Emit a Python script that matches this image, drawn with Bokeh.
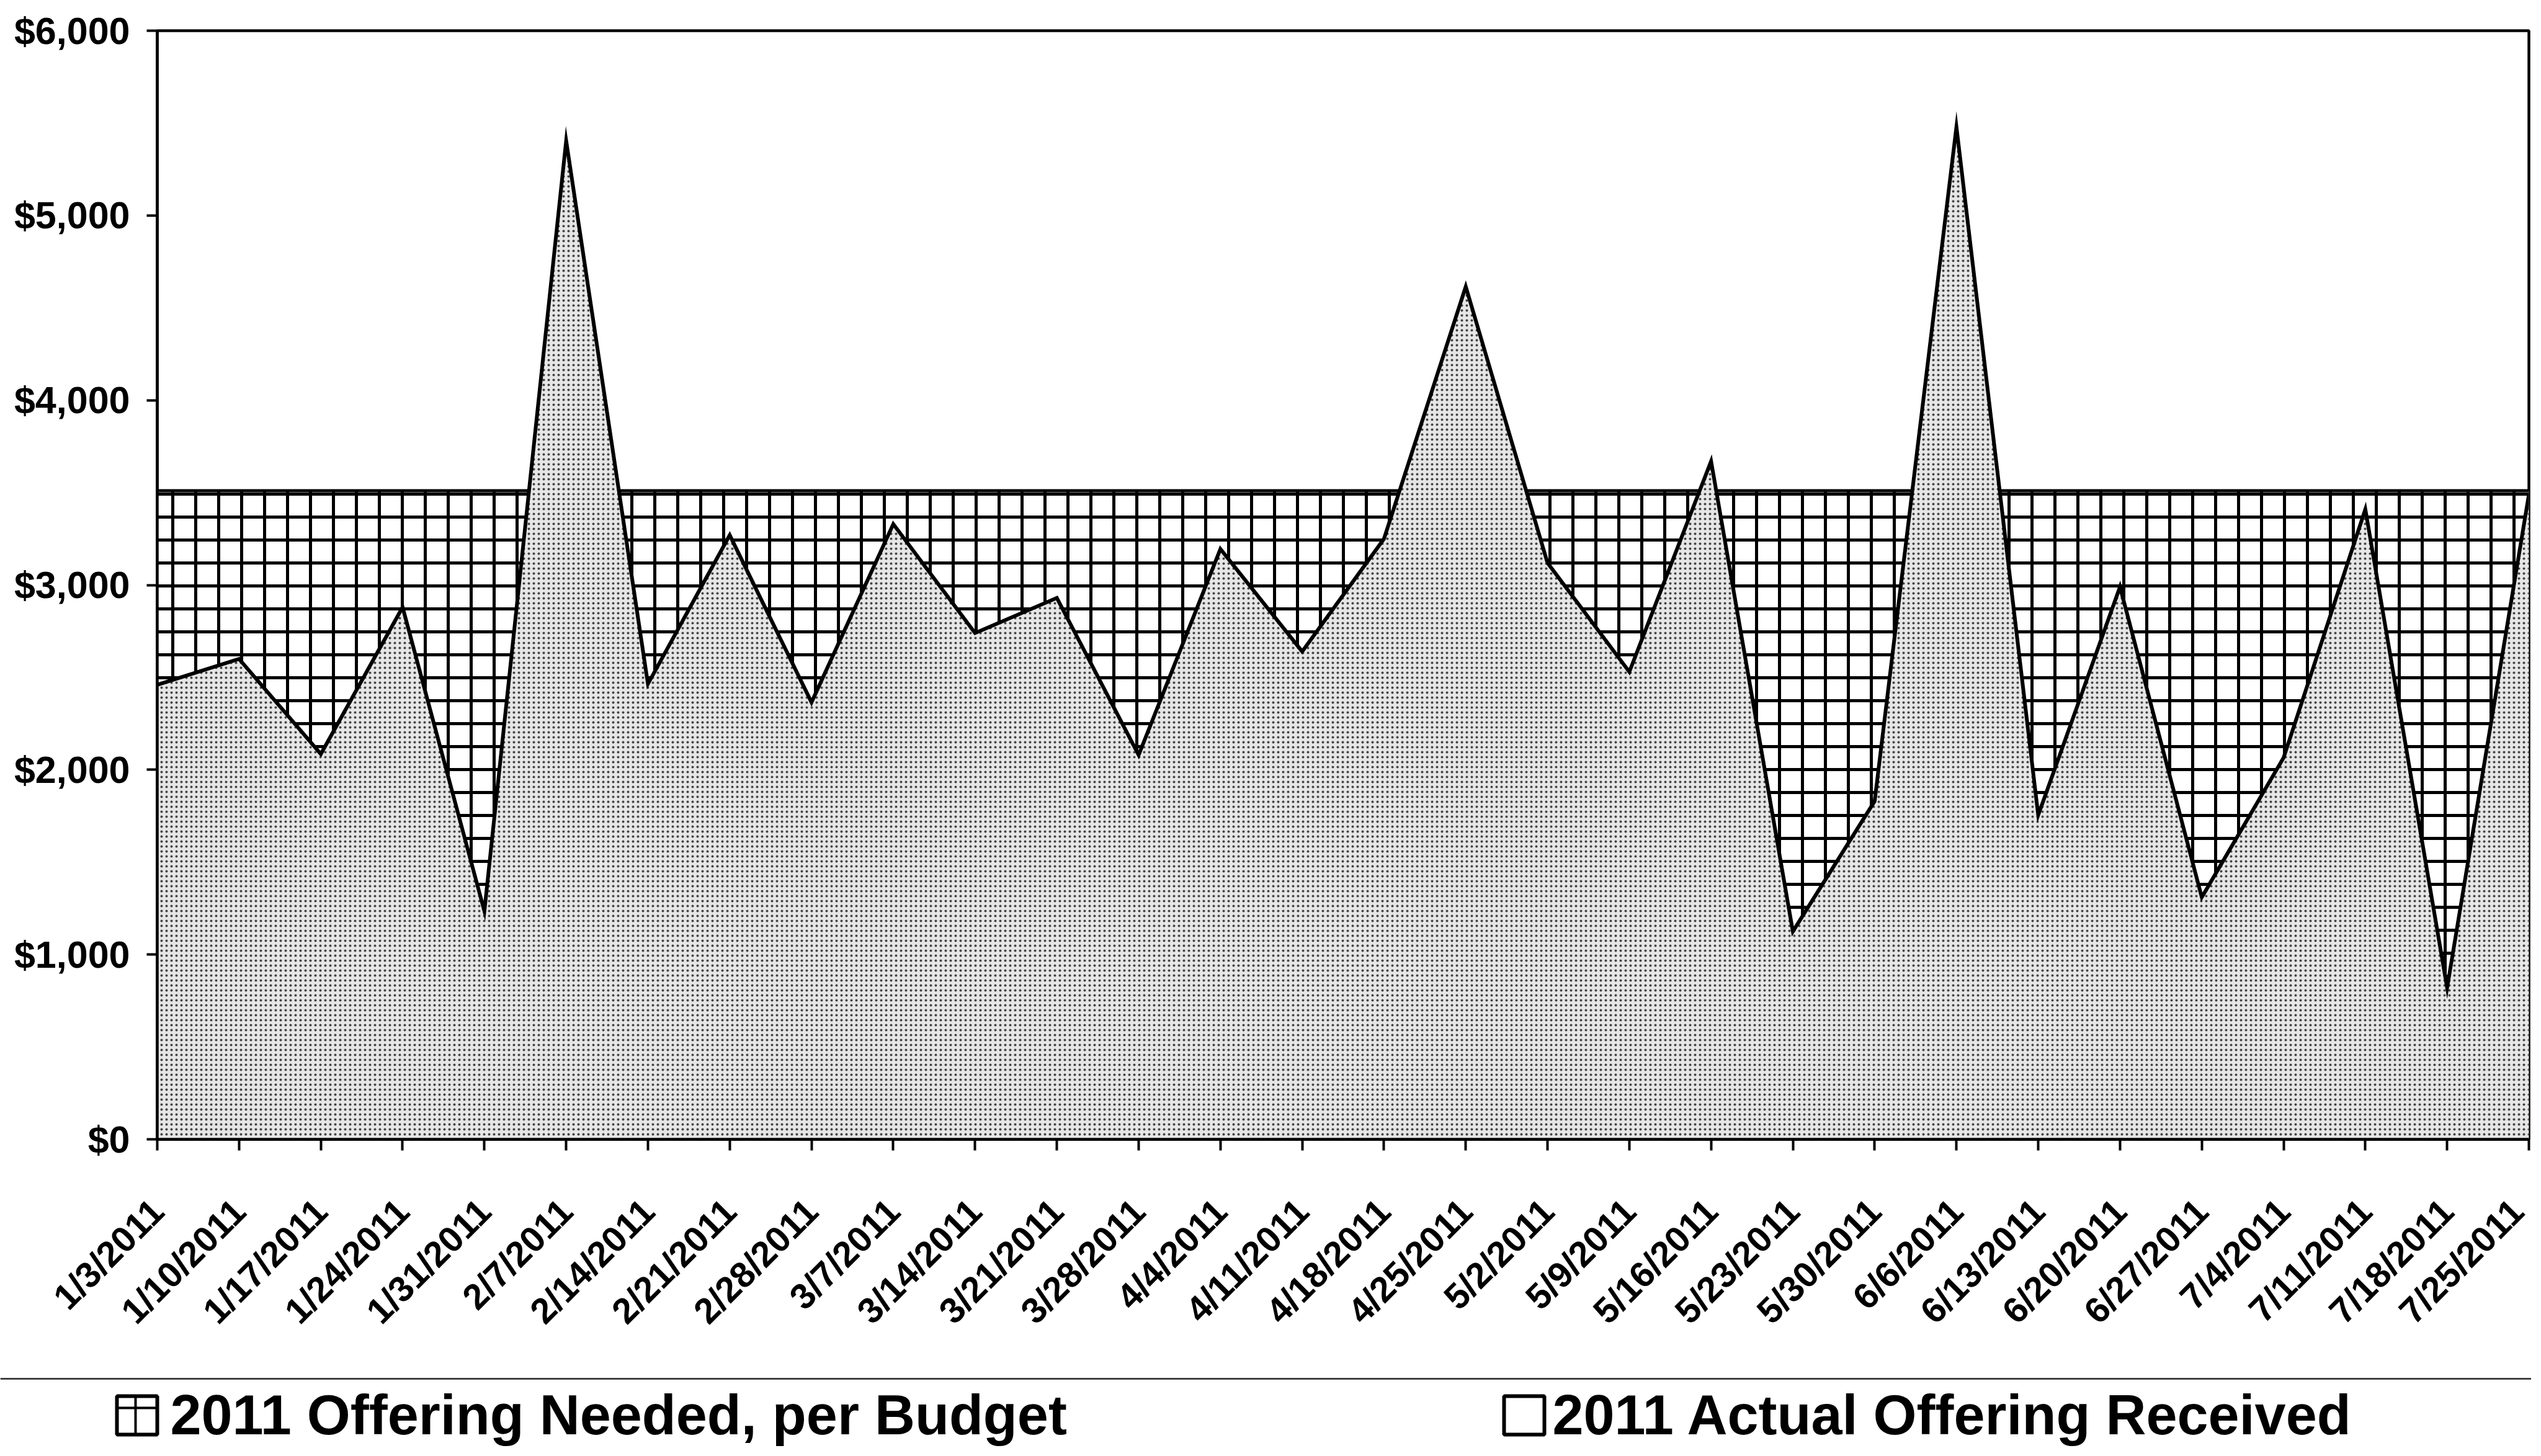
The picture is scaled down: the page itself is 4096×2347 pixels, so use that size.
import math
from bokeh.plotting import figure
from bokeh.layouts import column
from bokeh.models import Range1d, FixedTicker, NumeralTickFormatter, ColumnDataSource
from bokeh.core.properties import value
from bokeh.embed import file_html
from bokeh.resources import INLINE

# ---------------- data ----------------
week_labels = ["1/3/2011", "1/10/2011", "1/17/2011", "1/24/2011", "1/31/2011",
               "2/7/2011", "2/14/2011", "2/21/2011", "2/28/2011", "3/7/2011",
               "3/14/2011", "3/21/2011", "3/28/2011", "4/4/2011", "4/11/2011",
               "4/18/2011", "4/25/2011", "5/2/2011", "5/9/2011", "5/16/2011",
               "5/23/2011", "5/30/2011", "6/6/2011", "6/13/2011", "6/20/2011",
               "6/27/2011", "7/4/2011", "7/11/2011", "7/18/2011", "7/25/2011"]

offering_needed = [3510, 3510, 3510, 3510, 3510, 3510, 3510, 3510, 3510, 3510,
                   3510, 3510, 3510, 3510, 3510, 3510, 3510, 3510, 3510, 3510,
                   3510, 3510, 3510, 3510, 3510, 3510, 3510, 3510, 3510, 3510]

offering_received = [2460, 2600, 2085, 2880, 1235, 5405, 2465, 3270, 2365, 3330,
                     2740, 2930, 2080, 3195, 2640, 3250, 4615, 3120, 2530, 3670,
                     1125, 1830, 5480, 1755, 2990, 1310, 2065, 3410, 820, 3490]

y_ticks = [0, 1000, 2000, 3000, 4000, 5000, 6000]

legend_labels = ["2011 Offering Needed, per Budget", "2011 Actual Offering Received"]

# ---------------- main chart ----------------
W = 4080
H_MAIN, H_LEG = 2180, 151
FONT = "Liberation Sans"

xs = list(range(len(week_labels)))
src = ColumnDataSource(data=dict(x=xs, needed=offering_needed, received=offering_received))

p = figure(width=W, height=H_MAIN,
           x_range=Range1d(0, len(week_labels) - 1),
           y_range=Range1d(y_ticks[0], y_ticks[-1]),
           output_backend="svg", toolbar_location=None,
           min_border_left=253, min_border_right=4,
           min_border_top=49, min_border_bottom=344)
p.frame_align = False

p.background_fill_color = "white"
p.border_fill_color = "white"
p.xgrid.visible = False
p.ygrid.visible = False
p.outline_line_color = "black"
p.outline_line_width = 4.5
p.outline_line_alpha = 1.0

# budget area with grid hatch
p.varea(x="x", y1=0, y2="needed", source=src,
        fill_color="white", hatch_pattern="+", hatch_scale=37,
        hatch_weight=5, hatch_color="black")
p.line(x="x", y="needed", source=src, line_color="black", line_width=5)

# actual area with stipple
p.varea(x="x", y1=0, y2="received", source=src,
        fill_color="#e6e6e6", hatch_pattern="dot", hatch_scale=8,
        hatch_weight=1, hatch_color="#444444")
p.line(x="x", y="received", source=src, line_color="black", line_width=6,
       line_join="miter")

# axes
xa = p.xaxis[0]
xa.ticker = FixedTicker(ticks=xs)
xa.major_label_overrides = {i: lab for i, lab in enumerate(week_labels)}
xa.major_label_orientation = math.pi / 4
xa.major_label_text_font = FONT
xa.major_label_text_font_style = "bold"
xa.major_label_text_font_size = "58px"
xa.major_label_text_color = "black"
xa.major_label_standoff = 88
xa.major_tick_out = 18
xa.major_tick_in = 0
xa.major_tick_line_width = 4
xa.major_tick_line_color = "black"
xa.minor_tick_line_color = None
xa.axis_line_width = 4.5
xa.axis_line_color = "black"

ya = p.yaxis[0]
ya.ticker = FixedTicker(ticks=y_ticks)
ya.formatter = NumeralTickFormatter(format="$0,0")
ya.major_label_text_font = FONT
ya.major_label_text_font_style = "bold"
ya.major_label_text_font_size = "61px"
ya.major_label_text_color = "black"
ya.major_label_standoff = 27
ya.major_tick_out = 17
ya.major_tick_in = 0
ya.major_tick_line_width = 4
ya.major_tick_line_color = "black"
ya.minor_tick_line_color = None
ya.axis_line_width = 4.5
ya.axis_line_color = "black"

# ---------------- legend strip ----------------
q = figure(width=W, height=H_LEG,
           x_range=Range1d(0, W), y_range=Range1d(H_LEG, 0),
           output_backend="svg", toolbar_location=None,
           min_border=0, x_axis_type=None, y_axis_type=None)
q.frame_align = False
q.outline_line_color = None
q.grid.visible = False
q.background_fill_color = "white"
q.border_fill_color = "white"

# separator rule
q.segment(x0=[0], y0=[42], x1=[W], y1=[42], line_width=2.5, line_color="#222222")

# legend swatches
q.quad(left=[188, 2424], right=[253, 2489], top=[70, 70], bottom=[132, 132],
       fill_color="white", line_color="black", line_width=6)
q.segment(x0=[218, 188], y0=[70, 89], x1=[218, 253], y1=[132, 89],
          line_color="black", line_width=4)

q.text(x=[274, 2502], y=[100, 100], text=legend_labels,
       text_font=value(FONT), text_font_style="bold", text_font_size="90px",
       text_baseline="middle", text_align="left", text_color="black")

layout = column(p, q, spacing=0)
open("out.html", "w").write(file_html(layout, INLINE))
